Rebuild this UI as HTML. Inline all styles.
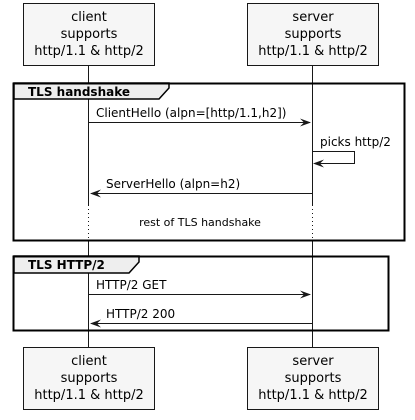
<!DOCTYPE html>
<html><head><meta charset="utf-8"><style>body{margin:0;background:#fff}svg{display:block}text{font-family:"DejaVu Sans","Liberation Sans",sans-serif;fill:#000}</style></head><body>
<svg width="415" height="420" viewBox="0 0 415 420" xmlns="http://www.w3.org/2000/svg">
<g stroke="#181818" stroke-width="1" fill="none">
<line x1="88.5" y1="65" x2="88.5" y2="347"/>
<line x1="312.5" y1="65" x2="312.5" y2="347"/>
</g>
<line x1="88.5" y1="205" x2="88.5" y2="241" stroke="#fff" stroke-width="2"/>
<line x1="312.5" y1="205" x2="312.5" y2="241" stroke="#fff" stroke-width="2"/>
<line x1="88.5" y1="205" x2="88.5" y2="241" stroke="#181818" stroke-dasharray="1,3"/>
<line x1="312.5" y1="205" x2="312.5" y2="241" stroke="#181818" stroke-dasharray="1,3"/>
<g fill="#f6f6f6" stroke="#181818" stroke-width="1">
<rect x="23.5" y="3.5" width="131" height="62"/>
<rect x="247.5" y="3.5" width="131" height="62"/>
<rect x="23.5" y="347.5" width="131" height="62"/>
<rect x="247.5" y="347.5" width="131" height="62"/>
</g>
<g font-size="13" text-anchor="middle">
<text x="89" y="21">client</text><text x="89" y="38">supports</text><text x="89" y="55">http/1.1 &amp; http/2</text>
<text x="313" y="21">server</text><text x="313" y="38">supports</text><text x="313" y="55">http/1.1 &amp; http/2</text>
<text x="89" y="365">client</text><text x="89" y="382">supports</text><text x="89" y="399">http/1.1 &amp; http/2</text>
<text x="313" y="365">server</text><text x="313" y="382">supports</text><text x="313" y="399">http/1.1 &amp; http/2</text>
</g>
<path d="M14,83 L169,83 L169,88 L159,99 L14,99 Z" fill="#eeeeee" stroke="#000" stroke-width="1.5"/>
<rect x="13.5" y="83.5" width="391" height="157" fill="none" stroke="#000" stroke-width="2"/>
<text x="28" y="96" font-size="12" font-weight="bold">TLS handshake</text>
<path d="M14,256 L139,256 L139,262 L129,273 L14,273 Z" fill="#eeeeee" stroke="#000" stroke-width="1.5"/>
<rect x="13.5" y="256.5" width="375" height="74" fill="none" stroke="#000" stroke-width="2"/>
<text x="28" y="269" font-size="12" font-weight="bold">TLS HTTP/2</text>
<g stroke="#181818" stroke-width="1" fill="none">
<line x1="89" y1="122.5" x2="310" y2="122.5"/>
<polyline points="313,151.5 354.5,151.5 354.5,163.5 315,163.5"/>
<line x1="91" y1="193.5" x2="312" y2="193.5"/>
<line x1="89" y1="294.5" x2="310" y2="294.5"/>
<line x1="91" y1="323.5" x2="312" y2="323.5"/>
</g>
<g fill="#181818">
<polygon points="300,118.5 311,122.5 300,126.5 304,122.5"/>
<polygon points="324,159.5 313,163.5 324,167.5 320,163.5"/>
<polygon points="101,189.5 90,193.5 101,197.5 97,193.5"/>
<polygon points="300,290.5 311,294.5 300,298.5 304,294.5"/>
<polygon points="101,319.5 90,323.5 101,327.5 97,323.5"/>
</g>
<g font-size="12">
<text x="96" y="117">ClientHello (alpn=[http/1.1,h2])</text>
<text x="320" y="146">picks http/2</text>
<text x="106" y="188">ServerHello (alpn=h2)</text>
<text x="96" y="289">HTTP/2 GET</text>
<text x="106" y="318">HTTP/2 200</text>
</g>
<text x="200" y="226" font-size="11" text-anchor="middle">rest of TLS handshake</text>
</svg>
</body></html>
